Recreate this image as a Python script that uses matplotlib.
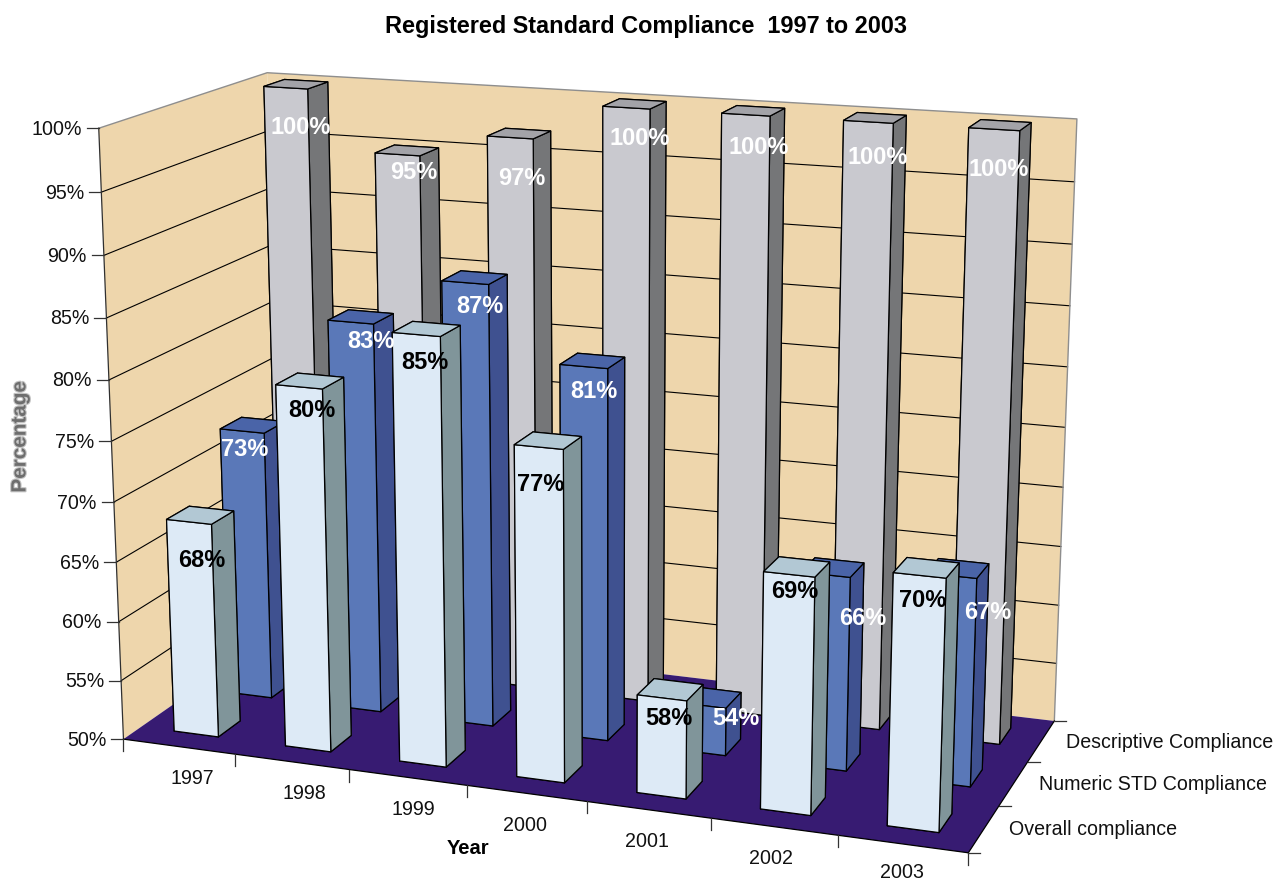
import numpy as np
import matplotlib
matplotlib.use("Agg")
import matplotlib.pyplot as plt
import matplotlib.patheffects as pe
from matplotlib.lines import Line2D
from matplotlib.transforms import Affine2D
from mpl_toolkits.mplot3d import Axes3D
from mpl_toolkits.mplot3d.art3d import Poly3DCollection

plt.rcParams['font.family'] = ['Liberation Sans', 'DejaVu Sans']

years = ['1997', '1998', '1999', '2000', '2001', '2002', '2003']
series_names = ['Overall compliance', 'Numeric STD Compliance', 'Descriptive Compliance']
overall = [68, 80, 85, 77, 58, 69, 70]
numeric_std = [73, 83, 87, 81, 54, 66, 67]
descriptive = [100, 95, 97, 100, 100, 100, 100]
percent_ticks = [50, 55, 60, 65, 70, 75, 80, 85, 90, 95, 100]

W, H = 1274, 881
BAR_W, BAR_D = 0.4, 0.4

# Camera calibration: box corners and axis ticks against their screen positions.
world = np.array([
    (0, 0, 50), (7, 0, 50), (7, 3, 50), (0, 3, 50), (0, 0, 100), (0, 3, 100), (7, 3, 100),
    (1, 0, 50), (2, 0, 50), (6, 0, 50), (7, 1, 50), (7, 2, 50), (0, 0, 75),
], float)
screen = np.array([
    (124, 739), (968, 852), (1054, 721), (282, 628), (99, 128), (267, 73), (1077, 119),
    (235, 755), (349, 770), (837, 835), (1000, 806), (1028, 762), (111, 441),
], float)


def solve_camera(world_pts, screen_pts):
    norm = np.array([[1 / 7, 0, 0, 0], [0, 1 / 3, 0, 0], [0, 0, 1 / 50, -1], [0, 0, 0, 1.0]])
    rows = []
    for (x, y, z), (u, v) in zip(world_pts, screen_pts / 1000):
        q = norm @ [x, y, z, 1]
        rows.append(np.r_[q, 0 * q, -u * q])
        rows.append(np.r_[0 * q, q, -v * q])
    p = np.linalg.svd(np.array(rows))[2][-1].reshape(3, 4)
    cam = np.diag([1000.0, 1000.0, 1.0]) @ p @ norm
    if cam[2] @ [3.5, 1.5, 75, 1] < 0:
        cam = -cam
    return cam / (cam[2] @ [3.5, 1.5, 75, 1])


CAMERA = solve_camera(world, screen)
VIEW = np.vstack([CAMERA[0], CAMERA[1], CAMERA[2] - [0, 0, 0, 0.5], CAMERA[2]])


class CalibratedAxes3D(Axes3D):
    """3D axes whose projection is the calibrated camera, in pixel units."""

    def get_proj(self):
        return VIEW

    def apply_aspect(self, position=None):
        pass


def project(x, y, z):
    u, v, w = CAMERA @ [x, y, z, 1]
    return u / w, v / w


PX = Affine2D().scale(1, -1).translate(0, H)

fig = plt.figure(figsize=(W / 100, H / 100), dpi=100, facecolor='white')
ax = fig.add_axes([0, 0, 1, 1], axes_class=CalibratedAxes3D)
ax.set_axis_off()
ax.set_proj_type('ortho')  # turns off the unit-cube clipping of 3D lines
ax.computed_zorder = False
ax.viewLim.intervalx = (0, W)
ax.viewLim.intervaly = (H, 0)


def add_quad(corners, face, zorder):
    poly = Poly3DCollection([corners], facecolors=face, edgecolors='none', linewidths=0)
    poly.set_zorder(zorder)
    ax.add_collection3d(poly)


WALL = '#EED6AC'
FLOOR = '#371B72'
add_quad([(0, 0, 50), (0, 3, 50), (0, 3, 100), (0, 0, 100)], WALL, 0)
add_quad([(0, 3, 50), (7, 3, 50), (7, 3, 100), (0, 3, 100)], WALL, 0)
add_quad([(0, 0, 50), (7, 0, 50), (7, 3, 50), (0, 3, 50)], FLOOR, 0)

for v in percent_ticks[1:-1]:
    ax.plot([0, 0, 7], [0, 3, 3], [v, v, v], color='black', lw=0.8, zorder=1)
ax.plot([0, 0, 7, 7], [0, 3, 3, 3], [100, 100, 100, 50], color='#8E8E8E', lw=1.0, zorder=1)
ax.plot([0, 0], [0, 0], [50, 100], color='#303030', lw=0.9, zorder=1)
ax.plot([0, 7, 7], [0, 0, 3], [50, 50, 50], color='black', lw=0.9, zorder=1)

# Face order used by bar3d: bottom, top, front, back, left, right.
styles = [
    {'front': '#DDEAF6', 'top': '#B2C8D4', 'side': '#80959A'},
    {'front': '#5A78B8', 'top': '#4A64A8', 'side': '#3F5190'},
    {'front': '#C9C9CF', 'top': '#A3A3A8', 'side': '#757678'},
]
all_values = [overall, numeric_std, descriptive]
order = 2
for s in (2, 1, 0):
    st = styles[s]
    colors = [st['front'], st['top'], st['front'], st['front'], st['side'], st['side']]
    for i, val in enumerate(all_values[s]):
        ax.bar3d(i + 0.5 - BAR_W / 2, s + 0.51 - BAR_D / 2, 50, BAR_W, BAR_D, val - 50,
                 color=colors, edgecolor='black', linewidth=0.9, shade=False,
                 zsort='average', zorder=order)
        order += 1


def pix_text(x, y, s, **kw):
    kw.setdefault('fontsize', 14.1)
    kw.setdefault('color', '#111111')
    return fig.text(x, y + 1, s, transform=PX, **kw)


def tick(x0, y0, x1, y1):
    fig.add_artist(Line2D([x0, x1], [y0, y1], transform=PX, color='#333333', lw=0.9))


for v in percent_ticks:
    u, w = project(0, 0, v)
    tick(u - 12, w, u, w)
    pix_text(u - 17, w, f'{v}%', ha='right', va='center')

for i in range(8):
    u, w = project(i, 0, 50)
    tick(u, w, u, w + 12)
for s in range(4):
    u, w = project(7, s, 50)
    tick(u, w, u + 12, w)

year_dx = [13, 13, 6, -1, -1, -3, -1]
year_dy = [31, 31, 31, 31, 31, 31, 28]
for i, y in enumerate(years):
    u, w = project(i + 0.5, 0, 50)
    pix_text(u + year_dx[i], w + year_dy[i], y, ha='center', va='center')

for s, name in enumerate(series_names):
    u, w = project(7, s + 0.5, 50)
    pix_text(u + 25, w, name, ha='left', va='center')

pix_text(646, 25, 'Registered Standard Compliance  1997 to 2003', ha='center', va='center',
         fontsize=16.95, fontweight='bold', color='black')
pix_text(468, 847, 'Year', ha='center', va='center', fontsize=14.5, fontweight='bold', color='black')
pct = pix_text(20, 436, 'Percentage', ha='center', va='center', rotation=90, fontsize=14.9,
               fontweight='bold', color='#6E6E6E')
pct.set_path_effects([pe.withStroke(linewidth=1.6, foreground='#C4C4C4')])

# Value labels sit at an offset (in pixels) from the top front edge of each bar.
label_offsets = [
    [(13.6, 35.8), (13.5, 20.9), (9.3, 26.2), (2.7, 35.6), (7.5, 17.7), (6.2, 14.3), (3.7, 23.2)],
    [(3.4, 15.7), (20.8, 17.6), (15.3, 22.1), (10.6, 23.2), (34.4, 10.2), (38, 40.9), (37.1, 33.9)],
    [(15.8, 38.1), (17, 16.4), (12.2, 39.3), (14.1, 28.2), (13.6, 30.2), (10, 33), (5.1, 37.6)],
]
label_colors = ['black', 'white', 'white']
for s in range(3):
    for i, val in enumerate(all_values[s]):
        u, w = project(i + 0.5, s + 0.5 - BAR_D / 2, val)
        dx, dy = label_offsets[s][i]
        pix_text(u + dx, w + dy + 1, f'{val}%', ha='center', va='center', fontsize=17,
                 fontweight='bold', color=label_colors[s])

fig.savefig('out.png', dpi=100)
